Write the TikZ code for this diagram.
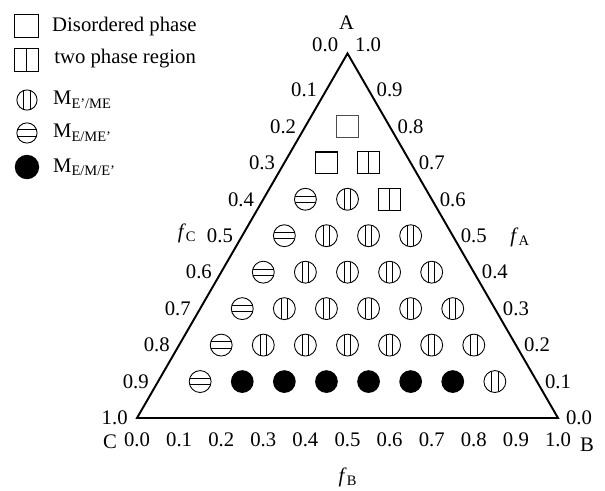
\documentclass[tikz,border=0pt]{standalone}
\usepackage{fontspec}
\setmainfont{Liberation Serif}
\tikzset{
  vcirc/.style={circle,draw,line width=0.6pt,minimum size=0.52cm,inner sep=0pt,
    path picture={\draw[line width=0.6pt]
      ([xshift=-0.075cm]path picture bounding box.south) -- ([xshift=-0.075cm]path picture bounding box.north)
      ([xshift=0.075cm]path picture bounding box.south) -- ([xshift=0.075cm]path picture bounding box.north);}},
  hcirc/.style={circle,draw,line width=0.6pt,minimum size=0.52cm,inner sep=0pt,
    path picture={\draw[line width=0.6pt]
      ([yshift=-0.075cm]path picture bounding box.west) -- ([yshift=-0.075cm]path picture bounding box.east)
      ([yshift=0.075cm]path picture bounding box.west) -- ([yshift=0.075cm]path picture bounding box.east);}},
  fcirc/.style={circle,fill=black,minimum size=0.54cm,inner sep=0pt},
  dbox/.style={rectangle,draw,line width=0.6pt,minimum size=0.52cm,inner sep=0pt},
  tbox/.style={dbox,path picture={\draw[line width=0.6pt]
      (path picture bounding box.south) -- (path picture bounding box.north);}},
  tick/.style={inner sep=0pt}
}
\newcommand\tickval[1]{\ifnum#1=10 1.0\else 0.#1\fi}
\begin{document}
\begin{tikzpicture}[font=\fontsize{14}{16}\selectfont]
\useasboundingbox (-3.254,-1.710) rectangle (11.116,9.929);
\coordinate (C) at (0,0);
\coordinate (B) at (10,0);
\coordinate (A) at (5,8.660);
\draw[line width=1.3pt] (A) -- (B) -- (C) -- cycle;
% graduations des trois côtés
\foreach \i in {0,...,10} \node[tick] (b\i) at (\i,-0.52) {\tickval{\i}};
\foreach \i in {0,...,9}{
  \pgfmathtruncatemacro\j{10-\i}
  \node[tick] (l\i) at (\i/2-0.53,\i*0.866) {\tickval{\j}};
  \node[tick] (r\i) at (10-\i/2+0.5,\i*0.866) {\tickval{\i}};
}
\node[tick] (l10) at (4.47,8.86) {0.0};
\node[tick] (r10) at (5.49,8.86) {1.0};
\node (nA) at (4.98,9.38) {A};
\node (nB) at (10.69,-0.64) {B};
\node (nC) at (-0.64,-0.57) {C};
\node (fA) at (9.10,4.30) {\textit{f}\textsubscript{A}};
\node (fB) at (5.01,-1.40) {\textit{f}\textsubscript{B}};
\node (fC) at (1.19,4.39) {\textit{f}\textsubscript{C}};
% les points de la grille
\foreach \a in {1,...,6} \node[hcirc] (h\a) at (\a/2+1,\a*0.866) {};
\foreach \a/\n in {2/7,3/6,4/5,5/4,6/2}
  \foreach \k in {2,...,\n} \node[vcirc] (v\a\k) at (\a/2+\k,\a*0.866) {};
\foreach \k in {2,...,7} \node[fcirc] (n\k) at (\k+0.5,0.866) {};
\node[vcirc] (v18) at (8.5,0.866) {};
\node[tbox] (t63) at (6,5.196) {};
\node[tbox] (t72) at (5.5,6.062) {};
\node[dbox,line width=1pt] (d71) at (4.5,6.062) {};
\node[dbox,line width=0.5pt,draw=black!70] (d81) at (5,6.928) {};
% légende
\node[dbox,minimum size=0.55cm] (kd) at (-2.625,9.311) {};
\node[tbox,minimum size=0.55cm] (kt) at (-2.625,8.504) {};
\node[vcirc,minimum size=0.48cm] (kv) at (-2.613,7.553) {};
\node[hcirc,minimum size=0.48cm] (kh) at (-2.613,6.770) {};
\node[fcirc,minimum size=0.58cm] (kf) at (-2.613,5.962) {};
\node[anchor=base west,inner sep=0pt] (td) at (-2.02,9.17) {Disordered phase};
\node[anchor=base west,inner sep=0pt] (tt) at (-1.97,8.43) {two phase region};
\node[anchor=base west,inner sep=0pt] (tv) at (-2.00,7.435) {M\textsubscript{E'/ME}};
\node[anchor=base west,inner sep=0pt] (th) at (-2.00,6.651) {M\textsubscript{E/ME'}};
\node[anchor=base west,inner sep=0pt] (tf) at (-2.00,5.843) {M\textsubscript{E/M/E'}};
\end{tikzpicture}
\end{document}
